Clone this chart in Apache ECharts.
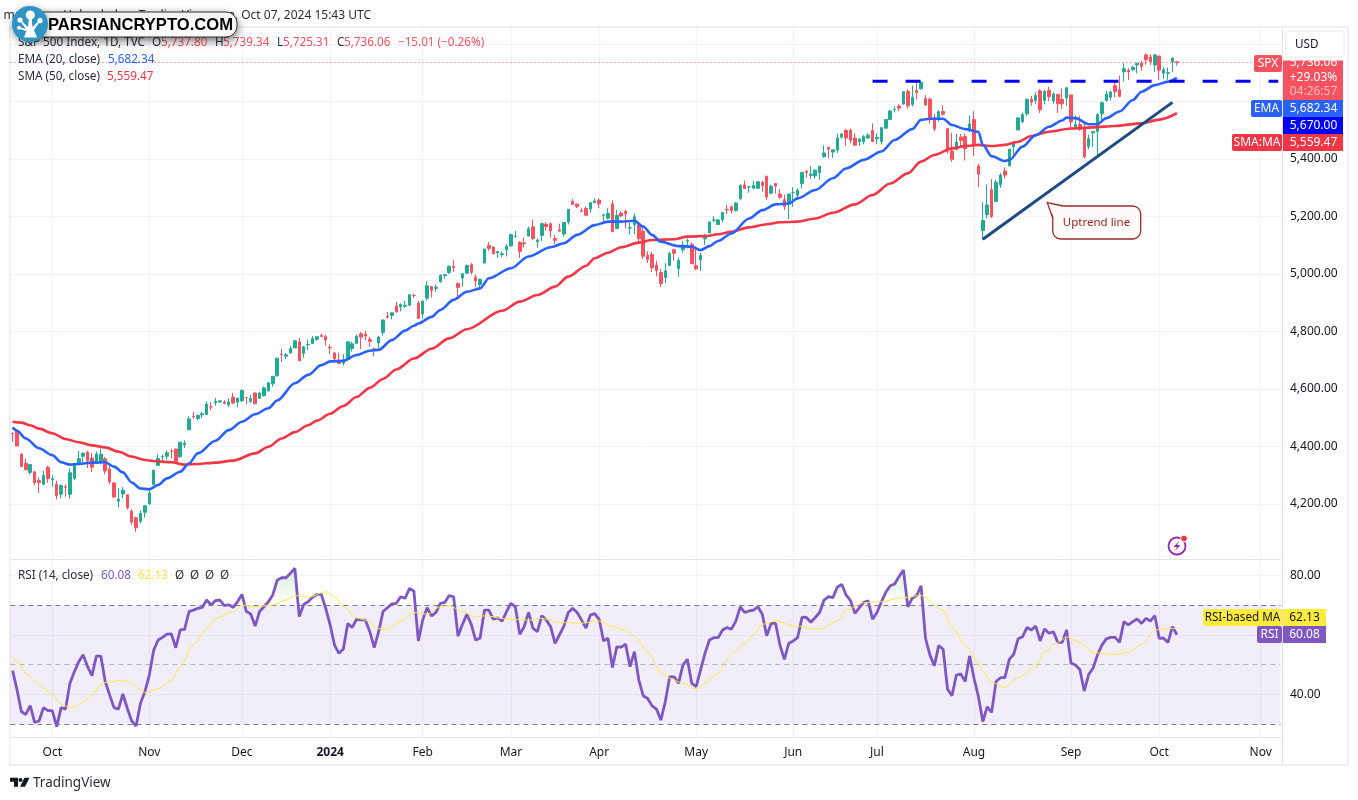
<!DOCTYPE html>
<html lang="en">
<head>
    <meta charset="UTF-8">
    <title>S&amp;P 500 Index, 1D</title>
    <script src="https://cdn.jsdelivr.net/npm/echarts@6/dist/echarts.min.js"></script>
    <style>
        html,body{margin:0;padding:0;background:#fff;}
        #chart{width:1358px;height:800px;}
    </style>
</head>
<body>
<div id="chart"></div>
<script>
    'use strict';
    // trading days on the time axis, the last 23 are still empty
    const categories=[
        '2023-09-19','2023-09-20','2023-09-21','2023-09-22','2023-09-25','2023-09-26','2023-09-27','2023-09-28','2023-09-29',
        '2023-10-02','2023-10-03','2023-10-04','2023-10-05','2023-10-06','2023-10-09','2023-10-10','2023-10-11','2023-10-12','2023-10-13','2023-10-16','2023-10-17','2023-10-18','2023-10-19','2023-10-20','2023-10-23','2023-10-24','2023-10-25','2023-10-26','2023-10-27','2023-10-30','2023-10-31',
        '2023-11-01','2023-11-02','2023-11-03','2023-11-06','2023-11-07','2023-11-08','2023-11-09','2023-11-10','2023-11-13','2023-11-14','2023-11-15','2023-11-16','2023-11-17','2023-11-20','2023-11-21','2023-11-22','2023-11-24','2023-11-27','2023-11-28','2023-11-29','2023-11-30',
        '2023-12-01','2023-12-04','2023-12-05','2023-12-06','2023-12-07','2023-12-08','2023-12-11','2023-12-12','2023-12-13','2023-12-14','2023-12-15','2023-12-18','2023-12-19','2023-12-20','2023-12-21','2023-12-22','2023-12-26','2023-12-27','2023-12-28','2023-12-29',
        '2024-01-02','2024-01-03','2024-01-04','2024-01-05','2024-01-08','2024-01-09','2024-01-10','2024-01-11','2024-01-12','2024-01-16','2024-01-17','2024-01-18','2024-01-19','2024-01-22','2024-01-23','2024-01-24','2024-01-25','2024-01-26','2024-01-29','2024-01-30','2024-01-31',
        '2024-02-01','2024-02-02','2024-02-05','2024-02-06','2024-02-07','2024-02-08','2024-02-09','2024-02-12','2024-02-13','2024-02-14','2024-02-15','2024-02-16','2024-02-20','2024-02-21','2024-02-22','2024-02-23','2024-02-26','2024-02-27','2024-02-28','2024-02-29',
        '2024-03-01','2024-03-04','2024-03-05','2024-03-06','2024-03-07','2024-03-08','2024-03-11','2024-03-12','2024-03-13','2024-03-14','2024-03-15','2024-03-18','2024-03-19','2024-03-20','2024-03-21','2024-03-22','2024-03-25','2024-03-26','2024-03-27','2024-03-28',
        '2024-04-01','2024-04-02','2024-04-03','2024-04-04','2024-04-05','2024-04-08','2024-04-09','2024-04-10','2024-04-11','2024-04-12','2024-04-15','2024-04-16','2024-04-17','2024-04-18','2024-04-19','2024-04-22','2024-04-23','2024-04-24','2024-04-25','2024-04-26','2024-04-29','2024-04-30',
        '2024-05-01','2024-05-02','2024-05-03','2024-05-06','2024-05-07','2024-05-08','2024-05-09','2024-05-10','2024-05-13','2024-05-14','2024-05-15','2024-05-16','2024-05-17','2024-05-20','2024-05-21','2024-05-22','2024-05-23','2024-05-24','2024-05-28','2024-05-29','2024-05-30','2024-05-31',
        '2024-06-03','2024-06-04','2024-06-05','2024-06-06','2024-06-07','2024-06-10','2024-06-11','2024-06-12','2024-06-13','2024-06-14','2024-06-17','2024-06-18','2024-06-20','2024-06-21','2024-06-24','2024-06-25','2024-06-26','2024-06-27','2024-06-28',
        '2024-07-01','2024-07-02','2024-07-03','2024-07-05','2024-07-08','2024-07-09','2024-07-10','2024-07-11','2024-07-12','2024-07-15','2024-07-16','2024-07-17','2024-07-18','2024-07-19','2024-07-22','2024-07-23','2024-07-24','2024-07-25','2024-07-26','2024-07-29','2024-07-30','2024-07-31',
        '2024-08-01','2024-08-02','2024-08-05','2024-08-06','2024-08-07','2024-08-08','2024-08-09','2024-08-12','2024-08-13','2024-08-14','2024-08-15','2024-08-16','2024-08-19','2024-08-20','2024-08-21','2024-08-22','2024-08-23','2024-08-26','2024-08-27','2024-08-28','2024-08-29','2024-08-30',
        '2024-09-03','2024-09-04','2024-09-05','2024-09-06','2024-09-09','2024-09-10','2024-09-11','2024-09-12','2024-09-13','2024-09-16','2024-09-17','2024-09-18','2024-09-19','2024-09-20','2024-09-23','2024-09-24','2024-09-25','2024-09-26','2024-09-27','2024-09-30',
        '2024-10-01','2024-10-02','2024-10-03','2024-10-04','2024-10-07',
        '2024-10-08','2024-10-09','2024-10-10','2024-10-11','2024-10-14','2024-10-15','2024-10-16','2024-10-17','2024-10-18','2024-10-21','2024-10-22','2024-10-23','2024-10-24','2024-10-25','2024-10-28','2024-10-29','2024-10-30','2024-10-31',
        '2024-11-01','2024-11-04','2024-11-05','2024-11-06','2024-11-07'
    ];
    const monthDates=['2023-10-02','2023-11-01','2023-12-01','2024-01-02','2024-02-01','2024-03-01','2024-04-01','2024-05-01','2024-06-03','2024-07-01','2024-08-01','2024-09-03','2024-10-01','2024-11-01'];
    const monthNames=['Oct','Nov','Dec','2024','Feb','Mar','Apr','May','Jun','Jul','Aug','Sep','Oct','Nov'];

    // one row per month, Sep 2023 to Oct 2024
    const opens=[
        4445,4452,4374,4341,4310,4312,4282,4269,4328,
        4284,4269,4234,4260,4234,4289,4339,4366,4380,4360,4342,4345,4357,4322,4273,4210,4235,4232,4175,4152,4140,4171,
        4201,4268,4334,4365,4366,4384,4391,4365,4407,4458,4505,4497,4510,4511,4538,4553,4555,4554,4545,4571,4554,
        4559,4570,4557,4586,4568,4577,4593,4618,4646,4721,4714,4725,4743,4764,4724,4754,4758,4773,4786,4782,
        4745,4725,4697,4690,4703,4741,4759,4792,4791,4772,4739,4760,4797,4853,4856,4888,4886,4888,4892,4925,4899,
        4861,4916,4957,4950,4973,4995,5005,5026,4967,4986,5003,5032,4989,4963,5038,5100,5093,5074,5067,5085,
        5098,5130,5110,5108,5132,5164,5112,5134,5173,5175,5123,5154,5139,5181,5253,5243,5220,5228,5226,5248,
        5257,5204,5194,5244,5158,5212,5217,5160,5172,5171,5149,5064,5068,5031,5005,4988,5029,5084,5019,5084,5114,5103,
        5029,5049,5122,5143,5187,5172,5189,5225,5234,5221,5263,5310,5303,5298,5298,5319,5340,5281,5315,5278,5259,5243,
        5283,5274,5314,5357,5343,5341,5353,5409,5441,5424,5431,5476,5499,5499,5473,5460,5460,5473,5499,
        5471,5461,5507,5537,5572,5584,5591,5635,5590,5638,5644,5610,5608,5543,5544,5565,5506,5428,5433,5476,5478,5505,
        5537,5376,5151,5206,5293,5252,5311,5358,5376,5442,5501,5530,5557,5608,5603,5637,5604,5639,5602,5624,5607,5612,
        5623,5507,5520,5507,5443,5491,5496,5557,5603,5615,5655,5641,5703,5709,5711,5727,5733,5762,5755,5727,
        5758,5698,5698,5737,5738
    ];
    const highs=[
        4449,4461,4375,4357,4338,4314,4292,4317,4333,
        4300,4281,4268,4268,4324,4341,4385,4378,4385,4377,4383,4393,4364,4339,4276,4255,4259,4232,4183,4156,4177,4195,
        4245,4318,4373,4372,4386,4391,4393,4415,4421,4505,4521,4511,4521,4557,4554,4569,4560,4561,4568,4587,4570,
        4599,4572,4579,4590,4590,4609,4623,4643,4709,4739,4725,4749,4768,4778,4748,4772,4784,4785,4793,4789,
        4755,4729,4727,4721,4764,4765,4790,4798,4802,4782,4744,4783,4842,4868,4866,4903,4898,4907,4929,4931,4906,
        4906,4975,4957,4964,4999,5000,5030,5049,4970,5002,5032,5038,4999,4983,5087,5111,5097,5080,5077,5104,
        5140,5150,5114,5127,5165,5189,5125,5179,5180,5179,5136,5175,5180,5226,5261,5246,5229,5235,5249,5264,
        5263,5208,5229,5256,5223,5219,5224,5178,5211,5175,5168,5079,5077,5046,5019,5038,5076,5089,5057,5114,5124,5110,
        5096,5073,5140,5181,5201,5191,5215,5240,5238,5250,5312,5325,5305,5325,5321,5323,5342,5311,5315,5295,5276,5280,
        5302,5298,5354,5362,5375,5365,5376,5447,5441,5432,5488,5490,5505,5505,5490,5473,5483,5490,5524,
        5489,5510,5539,5570,5583,5590,5634,5642,5655,5667,5667,5622,5614,5557,5570,5586,5508,5491,5488,5487,5489,5551,
        5566,5383,5250,5312,5330,5328,5351,5371,5436,5463,5546,5561,5608,5620,5632,5643,5641,5651,5631,5627,5646,5648,
        5623,5552,5550,5522,5484,5497,5560,5600,5636,5636,5671,5690,5733,5716,5725,5735,5742,5767,5765,5765,
        5758,5720,5718,5753,5739
    ];
    const lows=[
        4416,4402,4329,4316,4302,4265,4238,4265,4274,
        4260,4216,4220,4225,4220,4283,4339,4345,4325,4311,4342,4338,4303,4269,4223,4189,4220,4181,4127,4103,4132,4153,
        4197,4268,4334,4347,4355,4359,4343,4360,4394,4458,4496,4492,4499,4511,4526,4542,4552,4546,4537,4547,4537,
        4554,4546,4552,4546,4565,4574,4593,4608,4643,4694,4704,4725,4743,4697,4708,4736,4758,4768,4780,4751,
        4722,4700,4688,4682,4699,4730,4756,4739,4769,4747,4714,4740,4785,4845,4842,4865,4870,4882,4888,4917,4845,
        4845,4907,4918,4938,4970,4983,5000,5007,4920,4956,4999,4998,4954,4946,5038,5081,5068,5056,5058,5061,
        5094,5127,5056,5092,5131,5117,5091,5114,5151,5126,5104,5149,5131,5172,5240,5229,5216,5203,5213,5247,
        5229,5184,5190,5146,5157,5197,5160,5138,5138,5107,5052,5039,5007,4992,4954,4969,5028,5047,4990,5073,5089,5035,
        5013,5011,5101,5143,5181,5171,5181,5208,5211,5217,5257,5296,5283,5298,5298,5286,5257,5278,5280,5262,5222,5191,
        5234,5257,5298,5335,5331,5331,5327,5404,5403,5404,5421,5471,5446,5455,5447,5446,5451,5470,5460,
        5451,5451,5507,5536,5562,5566,5589,5576,5583,5606,5641,5584,5522,5497,5530,5550,5419,5390,5430,5444,5395,5493,
        5410,5302,5119,5193,5195,5252,5300,5332,5376,5415,5501,5525,5550,5585,5591,5560,5590,5601,5593,5560,5574,5585,
        5504,5504,5498,5402,5434,5442,5406,5536,5601,5604,5614,5615,5670,5674,5705,5698,5707,5729,5727,5703,
        5675,5678,5675,5702,5725
    ];
    const closes=[
        4444,4402,4330,4320,4337,4274,4275,4300,4288,
        4288,4229,4264,4258,4309,4336,4358,4377,4350,4328,4374,4373,4315,4278,4224,4217,4248,4187,4137,4117,4167,4194,
        4238,4318,4358,4366,4378,4383,4347,4415,4412,4496,4503,4508,4514,4547,4538,4557,4559,4550,4555,4551,4568,
        4595,4570,4567,4549,4586,4604,4622,4644,4707,4720,4719,4741,4768,4698,4747,4755,4775,4782,4783,4770,
        4743,4705,4689,4697,4764,4757,4783,4780,4784,4766,4739,4781,4840,4850,4865,4869,4894,4891,4928,4925,4846,
        4906,4959,4943,4954,4995,4998,5027,5022,4953,5001,5030,5006,4976,4982,5087,5089,5070,5078,5070,5096,
        5137,5131,5079,5105,5157,5124,5118,5175,5165,5150,5117,5149,5179,5225,5242,5234,5218,5204,5248,5254,
        5244,5206,5211,5147,5204,5202,5210,5161,5199,5123,5062,5051,5022,5011,4967,5011,5071,5072,5048,5100,5116,5036,
        5018,5064,5128,5181,5188,5188,5214,5223,5221,5247,5308,5297,5303,5308,5321,5307,5268,5305,5306,5267,5235,5278,
        5283,5291,5354,5353,5347,5361,5375,5421,5434,5432,5473,5487,5473,5465,5448,5469,5478,5483,5460,
        5475,5509,5537,5567,5573,5577,5634,5585,5615,5631,5667,5588,5545,5505,5564,5556,5427,5399,5459,5464,5436,5522,
        5447,5347,5186,5240,5200,5319,5344,5344,5434,5455,5543,5554,5608,5597,5621,5571,5635,5617,5626,5592,5592,5648,
        5529,5520,5503,5408,5471,5496,5554,5596,5626,5633,5635,5618,5714,5703,5719,5733,5722,5745,5738,5762,
        5709,5710,5700,5751,5736
    ];

    const emaBars=[0,1,3,6,9,11,13,15,18,21,23,25,27,29,31,33,35,38,40,42,46,49,52,55,58,60,64,67,70,72,75,78,81,83,86,89,91,92,95,97,100,103,106,108,113,117,122,125,128,132,135,138,141,143,145,147,151,154,156,158,160,163,167,170,173,176,178,182,186,189,193,197,200,204,206,208,211,213,216,219,220,222,225,226,229,232,235,238,239,241,244,246,248,251,254,256,259,262,264];
    const emaValues=[4466,4455,4428,4394,4370,4345,4337,4339,4344,4345,4330,4310,4275,4254,4251,4266,4289,4312,4341,4376,4420,4457,4486,4512,4533,4560,4620,4649,4683,4696,4698,4718,4733,4736,4770,4803,4820,4828,4851,4875,4910,4938,4950,4985,5020,5061,5093,5107,5136,5170,5182,5182,5185,5165,5136,5112,5097,5095,5083,5097,5115,5141,5193,5222,5242,5245,5263,5292,5333,5367,5397,5426,5466,5504,5536,5540,5540,5518,5504,5495,5449,5410,5393,5396,5443,5483,5512,5534,5544,5542,5521,5521,5542,5565,5605,5634,5657,5669,5682];

    // SMA 50
    const smaBars=[0,2,4,6,9,12,15,18,21,24,27,30,33,36,39,42,46,50,55,58,61,64,67,69,72,75,78,81,84,87,91,95,99,103,111,115,119,123,126,130,132,135,138,142,145,150,153,157,160,163,167,171,174,178,182,186,191,195,199,203,206,209,213,216,219,222,225,228,231,235,240,245,250,256,260,264];
    const smaValues=[4486,4483,4474,4462,4446,4426,4415,4404,4397,4382,4365,4353,4348,4345,4337,4339,4344,4351,4376,4399,4428,4450,4474,4490,4514,4541,4572,4604,4635,4668,4706,4740,4776,4808,4872,4904,4927,4956,4991,5028,5055,5074,5093,5109,5118,5121,5130,5132,5138,5147,5162,5173,5180,5182,5193,5213,5242,5275,5315,5350,5391,5414,5437,5445,5449,5445,5449,5460,5480,5495,5506,5510,5515,5524,5537,5559];

    // RSI 14, one value for each bar
    const rsiValues=[
        48,41.5,34.1,33.2,36.2,30.5,31,35.5,34.5,34.5,
        29.1,35.5,35,43.7,47.6,51,53.3,49.3,46.3,52.9,
        52.9,44.3,39.8,35.5,35,40.1,35.3,31,29.3,37,
        40.9,46.5,54.9,58.3,59.2,60.3,60.4,55.7,61.7,61.9,
        67.9,68.4,69,69.3,71.8,70.1,71.6,71.8,69.9,70.2,
        69.3,71.2,73.7,67.9,67.1,63,67.9,69.5,71.2,73.5,
        78.5,79.3,79.3,80.8,82.5,66.2,70.3,71.2,72.7,73.7,
        73.7,69,63.4,56.6,53.8,55.3,63.9,62.5,65.3,65.1,
        65,61.1,55.7,61.1,67.9,69.2,70.5,70.7,72.9,72.4,
        75.7,74.8,58,65.1,69.2,66.4,67.6,70.7,71,73.3,
        72.9,59.6,63.6,67,63.6,58.3,58.9,68.4,68.4,65.3,
        65.8,64.7,67.9,70.7,69.5,60.2,62.8,67.6,62.2,61.1,
        66.5,65.1,62.8,57.2,60,63,67.6,69,67.6,65.1,
        62.3,66.7,67.2,65.3,58,58.9,49,56,55.9,56.9,
        49.3,54.4,44.8,39.5,38.6,36.1,35,31.3,37.5,45.9,
        45.9,43.7,49.9,51.8,43.7,42.6,48.2,53.8,58.3,59.1,
        59.1,61.7,62.5,62,64.7,69.5,67.6,68.1,68.4,69.5,
        67,59.7,63.9,63.9,56.6,51.8,57.2,58,59.1,66,
        65.9,64.3,65.9,67.6,71.8,72.9,72.6,76.1,77.1,73.5,
        71.6,67.3,69.2,71,71.5,65.3,67.6,71.2,74.4,76.6,
        77.2,79.7,81.9,69.5,72.4,73.3,76.6,58.9,53.3,49.6,
        56.4,55.2,41.7,39.5,46.5,46.9,44.3,52.9,45.4,39.2,
        30.8,35.8,33.9,44.3,45.6,45.6,51.8,53.5,58.7,59.4,
        62.5,61.7,63,58,62,60.6,61.1,57.5,57.5,61.7,
        50.5,49.9,48.4,41.1,46.7,48.8,53.3,56.6,58.7,59.2,
        59.2,57.5,64.5,63.4,64.5,65.4,63.9,65.6,64.7,66.5,
        58.9,58.9,57.5,62.8,60.08
    ];

    // RSI-based MA
    const rsiMaBars=[0,1,3,5,7,9,11,13,14,16,18,20,21,25,27,29,30,33,36,38,41,44,46,50,52,55,59,62,64,67,71,73,75,78,80,83,85,88,91,94,97,99,102,105,107,112,117,120,124,129,133,136,139,141,144,147,149,152,155,157,160,162,163,166,168,170,173,177,183,187,189,193,197,201,206,211,213,216,219,220,222,225,228,232,234,237,239,242,245,250,253,256,259,262,264];
    const rsiMaValues=[52.7,51,47.1,44.5,42,40,36.6,35.6,35.8,37.5,39.8,43.1,44,44.8,43.7,41.5,40.6,41.8,44.8,49.3,56.6,62.2,65.6,67.9,70.1,69.5,70.1,71.8,73.3,72.7,74.6,72.9,69.5,65.8,65,62.2,62,64.5,67.6,67,69.5,69.9,67.9,66,66.5,65.4,65,65.6,64.2,64,64.7,62.8,61.7,59.7,54.4,47.6,45.4,43.7,41.8,43.7,47.1,51.6,53.8,57.2,60,63.6,64.7,63.1,61.9,64.7,68.4,70.9,71.2,72.4,73.3,68.4,62.8,56.6,50.4,47.6,44,42.3,45.6,49.3,54.4,57.5,59.4,57.5,54,53.5,54.2,56.9,61.7,62.2,62.13];

    const priceTicks=[4200,4400,4600,4800,5000,5200,5400,5600,5800];
    const priceLabels=[4200,4400,4600,4800,5000,5200,5400];
    const rsiTicks=[40,60,80];
    const rsiLabels=[40,80];
    const lastClose=5736.06;
    const resistance=5670;
    const resistanceDates=['2024-06-28','2024-11-07'];
    const trendDates=['2024-08-05','2024-10-04'];
    const trendValues=[5121,5597];

    const FONT='"Noto Sans"';
    const UP='#22AB94',DOWN='#F7525F';
    const GRID='#F0F3FA',EDGE='#E0E3EB',INK='#131722';

    function pairs(bars,values){
        return bars.map(function(b,k){return [b,values[k]];});
    }
    function money(v){
        return v.toFixed(2).replace(/\B(?=(\d{3})+(?!\d))/g,',');
    }
    function txt(text,x,y,fill,size,extra){
        return {
            type:'text',z:50,silent:true,
            style:Object.assign({text:text,x:x,y:y,fill:fill,font:(size||11.7)+'px '+FONT,textVerticalAlign:'middle'},extra||{})
        };
    }
    function box(x,y,w,h,fill,r,z){
        return {type:'rect',z:z||40,silent:true,shape:{x:x,y:y,width:w,height:h,r:r||0},style:{fill:fill}};
    }

    const candleData=opens.map(function(o,i){return [o,closes[i],lows[i],highs[i]];});
    const monthSet=new Set(monthDates);
    function isMonth(index,value){return monthSet.has(value);}

    const graphics=[
        // frame
        {type:'rect',z:1,silent:true,shape:{x:10,y:27,width:1338,height:738},style:{fill:'none',stroke:'#EFF0F6',lineWidth:2}},
        {type:'line',z:1,silent:true,shape:{x1:1282.5,y1:27,x2:1282.5,y2:765},style:{stroke:EDGE,lineWidth:1}},

        // header text
        txt('marzkhan Uploaded on TradingView.com, Oct 07, 2024 15:43 UTC',371,16,'#2A2E39',12,{textAlign:'right'}),
        txt('S&P 500 Index, 1D, TVC',18,43,'#2A2E39'),
        txt('O',152,43,'#2A2E39'),txt('5,737.80',161,43,DOWN),
        txt('H',215,43,'#2A2E39'),txt('5,739.34',223,43,DOWN),
        txt('L',277,43,'#2A2E39'),txt('5,725.31',283,43,DOWN),
        txt('C',337,43,'#2A2E39'),txt('5,736.06',344,43,DOWN),
        txt('\u221215.01 (\u22120.26%)',398,43,DOWN),
        txt('EMA (20, close)',18,60,'#2A2E39'),txt('5,682.34',108,60,'#2962FF'),
        txt('SMA (50, close)',18,77,'#2A2E39'),txt('5,559.47',107,77,'#F23645'),
        txt('RSI (14, close)',18,576,'#2A2E39'),txt('60.08',101,576,'#7E57C2'),txt('62.13',138,576,'#FBE44B'),
        txt('\u00D8',175,576,'#2A2E39'),txt('\u00D8',190,576,'#2A2E39'),txt('\u00D8',205,576,'#2A2E39'),txt('\u00D8',220,576,'#2A2E39'),

        // price tags
        box(1254,55,28,17,'#F7525F',2),
        txt('SPX',1268,64,'#fff',12,{textAlign:'center'}),
        box(1283,60,60,40,'#F7525F',0),
        txt(money(lastClose),1313.5,63,'#fff',12,{textAlign:'center'}),
        txt('+29.03%',1313.5,78,'#fff',12,{textAlign:'center'}),
        txt('04:26:57',1313.5,92,'rgba(255,255,255,0.6)',12,{textAlign:'center'}),
        {type:'rect',z:51,silent:true,shape:{x:1283,y:50,width:62,height:10.5},style:{fill:'#fff'}},
        {type:'rect',z:52,silent:true,shape:{x:1286,y:31,width:58,height:26,r:4},style:{fill:'#fff',stroke:'#EFF0F6',lineWidth:1.5}},
        Object.assign(txt('USD',1295,45,INK),{z:53}),
        box(1251,100,31,17,'#2962FF',2),
        txt('EMA',1266.5,109,'#fff',12,{textAlign:'center'}),
        box(1283,100,60,17,'#2962FF',0),
        txt('5,682.34',1313.5,109,'#fff',12,{textAlign:'center'}),
        box(1283,117,60,17,'#0000FF',0),
        txt('5,670.00',1313.5,126,'#fff',12,{textAlign:'center'}),
        box(1232,134,50,17,'#F23645',2),
        txt('SMA:MA',1257,143,'#fff',12,{textAlign:'center'}),
        box(1283,134,60,17,'#F23645',0),
        txt('5,559.47',1313.5,143,'#fff',12,{textAlign:'center'}),

        // rsi tags
        box(1203,609,79,17,'#FFEB3B',2),
        txt('RSI-based MA',1242.5,618,INK,11.7,{textAlign:'center'}),
        box(1283,609,43,17,'#FFEB3B',0),
        txt('62.13',1304.5,618,INK,12,{textAlign:'center'}),
        box(1257,626,25,17,'#7E57C2',2),
        txt('RSI',1269.5,635,'#fff',12,{textAlign:'center'}),
        box(1283,626,43,17,'#7E57C2',0),
        txt('60.08',1304.5,635,'#fff',12,{textAlign:'center'}),

        // callout on the trend line
        {type:'rect',z:45,silent:true,shape:{x:1052.7,y:206,width:88,height:33,r:8},style:{fill:'#FFFBFB',stroke:'#9C2A2A',lineWidth:1.3}},
        {type:'polygon',z:46,silent:true,shape:{points:[[1048.5,203.5],[1064,206.7],[1053.4,217]]},style:{fill:'#FFFBFB'}},
        {type:'polyline',z:47,silent:true,shape:{points:[[1052.7,218],[1047.3,202.7],[1063,206]]},style:{fill:'none',stroke:'#9C2A2A',lineWidth:1.3}},
        txt('Uptrend line',1096.5,223,'#9C1C1C',11.5,{textAlign:'center'}),

        // bolt icon
        {type:'circle',z:45,silent:true,shape:{cx:1177,cy:546,r:8.5},style:{fill:'#fff',stroke:'#9C27B0',lineWidth:1.8}},
        {type:'polygon',z:46,silent:true,shape:{points:[[1179.5,540.5],[1173.5,547],[1177,547],[1174.5,551.5],[1180.5,545],[1177,545]]},style:{fill:'#9C27B0'}},
        {type:'circle',z:47,silent:true,shape:{cx:1184,cy:538.5,r:3.4},style:{fill:'#F23645',stroke:'#fff',lineWidth:1}},

        // footer
        {type:'polygon',z:45,silent:true,shape:{points:[[10,777.7],[18,777.7],[18,786.7],[14,786.7],[14,781.7],[10,781.7]]},style:{fill:INK}},
        {type:'circle',z:45,silent:true,shape:{cx:20.5,cy:780,r:2},style:{fill:INK}},
        {type:'polygon',z:45,silent:true,shape:{points:[[24.5,777.7],[29.5,777.7],[25,786.7],[20,786.7]]},style:{fill:INK}},
        txt('TradingView',33,783,'#2A2E39',13.5),

        // watermark
        {type:'rect',z:60,silent:true,shape:{x:32,y:12,width:205,height:25,r:11},style:{fill:'#fff',stroke:'#333',lineWidth:1,shadowBlur:9,shadowColor:'rgba(0,0,0,0.55)',shadowOffsetY:3}},
        Object.assign(txt('PARSIANCRYPTO.COM',48,25,'#000',16,{font:'bold 16.6px "Liberation Sans"'}),{z:61}),
        {type:'circle',z:62,silent:true,shape:{cx:30,cy:24,r:18},style:{fill:'#2F93C4',shadowBlur:7,shadowColor:'rgba(0,0,0,0.4)',shadowOffsetY:2}},
        {type:'polygon',z:63,silent:true,shape:{points:[[24,37.5],[26.5,30],[20,21],[21,20.5],[28,27],[29,18],[31.5,18],[32.5,27],[39,20.5],[40,21.5],[34,30],[37,37.5]]},style:{fill:'#fff'}},
        {type:'circle',z:63,silent:true,shape:{cx:30.3,cy:15,r:4.6},style:{fill:'#fff'}},
        {type:'circle',z:63,silent:true,shape:{cx:20,cy:20,r:2.6},style:{fill:'#fff'}},
        {type:'circle',z:63,silent:true,shape:{cx:40,cy:20.7,r:2.6},style:{fill:'#fff'}},
        {type:'circle',z:63,silent:true,shape:{cx:19,cy:27.7,r:2},style:{fill:'#fff'}},
        {type:'polygon',z:63,silent:true,shape:{points:[[19,27],[26,29],[26,31],[19,28.5]]},style:{fill:'#fff'}}
    ];

    const timeAxisBase={
        type:'category',data:categories,boundaryGap:true,
        axisTick:{show:false},
        splitLine:{show:true,interval:isMonth,alignWithLabel:true,lineStyle:{color:GRID,width:1}}
    };

    const option={
        animation:false,
        backgroundColor:'#fff',
        textStyle:{fontFamily:FONT},
        graphic:graphics,
        grid:[
            {left:10.4,width:1270.1,top:27,height:532},
            {left:10.4,width:1270.1,top:559.5,height:178}
        ],
        xAxis:[
            Object.assign({},timeAxisBase,{gridIndex:0,
                axisLine:{show:true,lineStyle:{color:EDGE,width:1}},
                axisLabel:{show:false}}),
            Object.assign({},timeAxisBase,{gridIndex:1,
                axisLine:{show:true,lineStyle:{color:EDGE,width:1}},
                axisLabel:{show:true,interval:isMonth,margin:9,color:INK,fontSize:12,fontFamily:FONT,
                    hideOverlap:false,
                    formatter:function(v){
                        const name=monthNames[monthDates.indexOf(v)];
                        return name==='2024'?'{year|2024}':name;
                    },
                    rich:{year:{fontWeight:'bold',color:INK,fontSize:12,fontFamily:FONT}}}})
        ],
        yAxis:[
            {type:'value',gridIndex:0,position:'right',offset:1.5,min:4008.7,max:5859.1,scale:true,
                axisLine:{show:false},
                axisTick:{show:false,customValues:priceTicks},
                axisLabel:{show:true,customValues:priceLabels,margin:8,color:INK,fontSize:12,fontFamily:FONT,formatter:money},
                splitLine:{show:true,lineStyle:{color:GRID,width:1}}},
            {type:'value',gridIndex:1,position:'right',offset:1.5,min:25.43,max:85.46,
                axisLine:{show:false},
                axisTick:{show:false,customValues:rsiTicks},
                axisLabel:{show:true,customValues:rsiLabels,margin:8,color:INK,fontSize:12,fontFamily:FONT,formatter:money},
                splitLine:{show:true,lineStyle:{color:GRID,width:1}}}
        ],
        series:[
            {
                name:'SPX',type:'candlestick',xAxisIndex:0,yAxisIndex:0,barWidth:3,data:candleData,z:3,
                itemStyle:{color:UP,color0:DOWN,borderColor:UP,borderColor0:DOWN,borderWidth:1},
                markLine:{
                    silent:true,symbol:'none',animation:false,label:{show:false},
                    lineStyle:{color:DOWN,type:[1,3],width:1},
                    data:[{yAxis:lastClose}]
                }
            },
            {
                name:'SMA',type:'line',xAxisIndex:0,yAxisIndex:0,data:pairs(smaBars,smaValues),z:4,
                showSymbol:false,smooth:0.3,smoothMonotone:'x',lineStyle:{color:'#F23645',width:2.6}
            },
            {
                name:'EMA',type:'line',xAxisIndex:0,yAxisIndex:0,data:pairs(emaBars,emaValues),z:5,
                showSymbol:false,smooth:0.3,smoothMonotone:'x',lineStyle:{color:'#2962FF',width:2.6}
            },
            {
                name:'Resistance',type:'line',xAxisIndex:0,yAxisIndex:0,z:6,showSymbol:false,
                data:resistanceDates.map(function(d){return [d,resistance];}),
                lineStyle:{color:'#0000FF',width:3,type:[15,18]}
            },
            {
                name:'Uptrend',type:'line',xAxisIndex:0,yAxisIndex:0,z:6,showSymbol:false,
                data:trendDates.map(function(d,k){return [d,trendValues[k]];}),
                lineStyle:{color:'#1B4B82',width:3}
            },
            {
                name:'RSI',type:'line',xAxisIndex:1,yAxisIndex:1,data:rsiValues,z:5,showSymbol:false,
                lineStyle:{color:'#7E57C2',width:2.8},
                areaStyle:{origin:70,color:{type:'linear',global:true,x:0,y:568,x2:0,y2:605,colorStops:[
                    {offset:0,color:'rgba(76,175,80,0.32)'},
                    {offset:1,color:'rgba(76,175,80,0)'}
                ]}},
                markArea:{
                    silent:true,z:1,itemStyle:{color:'rgba(126,87,194,0.1)'},
                    data:[[{yAxis:30},{yAxis:70}]]
                },
                markLine:{
                    silent:true,symbol:'none',animation:false,label:{show:false},
                    data:[
                        {yAxis:70,lineStyle:{color:'#787B86',type:[5,4],width:1}},
                        {yAxis:50,lineStyle:{color:'rgba(120,123,134,0.5)',type:[5,4],width:1}},
                        {yAxis:30,lineStyle:{color:'#787B86',type:[5,4],width:1}}
                    ]
                }
            },
            {
                name:'RSI-based MA',type:'line',xAxisIndex:1,yAxisIndex:1,data:pairs(rsiMaBars,rsiMaValues),z:6,
                showSymbol:false,smooth:0.3,smoothMonotone:'x',lineStyle:{color:'#FDE74C',width:1}
            }
        ]
    };

    const mychart=echarts.init(document.getElementById('chart'));
    mychart.setOption(option);
</script>
</body>
</html>
